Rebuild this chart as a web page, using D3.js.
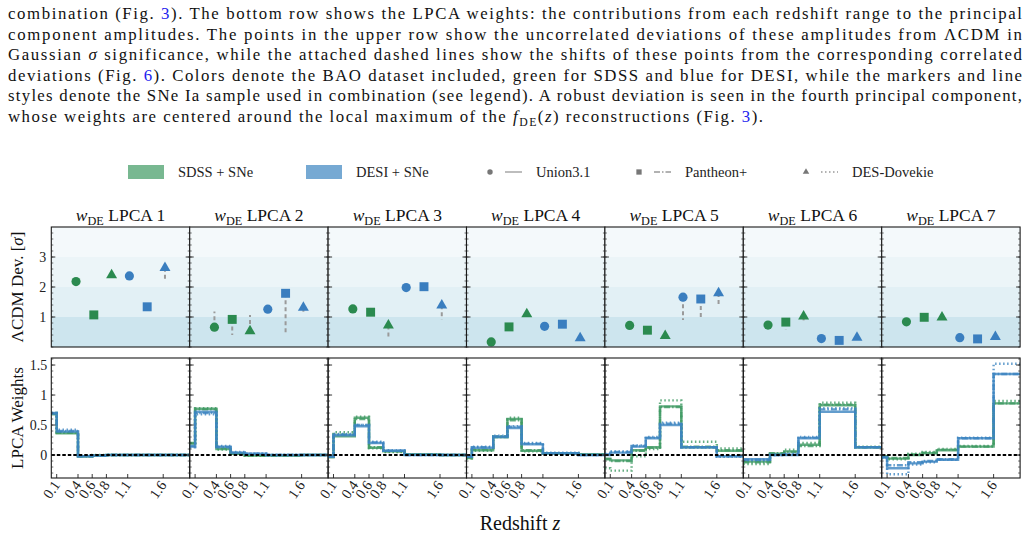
<!DOCTYPE html>
<html>
<head>
<meta charset="utf-8">
<script src="https://cdn.jsdelivr.net/npm/d3@7"></script>
<style>
body { margin: 0; background: #fff; }
svg { display: block; font-family: "Liberation Serif", "Times New Roman", serif; }
</style>
</head>
<body>
<svg width="1029" height="540"></svg>
<script>
// panel names, legend names and axis ticks
var panelNames = ["1", "2", "3", "4", "5", "6", "7"];
var baoNames = ["SDSS + SNe", "DESI + SNe"];
var sneNames = ["Union3.1", "Pantheon+", "DES-Dovekie"];
var zEdges = [0.1, 0.4, 0.6, 0.8, 1.1, 1.6];
var zTickLabels = ["0.1", "0.4", "0.6", "0.8", "1.1", "1.6"];
var devTicks = [1, 2, 3];
var devTickLabels = ["1", "2", "3"];
var weightTicks = [0, 0.5, 1, 1.5];
var weightTickLabels = ["0", "0.5", "1", "1.5"];

// uncorrelated deviations [Union3.1, Pantheon+, DES-Dovekie] per panel
var sdssDev = [[2.18, 1.07, 2.40], [0.66, 0.92, 0.53], [1.27, 1.16, 0.72], [0.17, 0.67, 1.10],
               [0.72, 0.56, 0.37], [0.73, 0.83, 1.02], [0.84, 0.99, 0.99]];
var desiDev = [[2.37, 1.34, 2.64], [1.26, 1.79, 1.31], [1.98, 2.01, 1.39], [0.69, 0.76, 0.30],
               [1.66, 1.60, 1.80], [0.28, 0.22, 0.31], [0.31, 0.27, 0.34]];
// correlated deviations (end of the dashed shift lines)
var sdssCorr = [[2.15, 1.05, 2.30], [1.18, 0.40, 1.07], [1.25, 1.12, 0.29], [0.15, 0.77, 1.08],
                [0.60, 0.54, 0.35], [0.51, 0.59, 0.84], [0.70, 0.97, 0.97]];
var desiCorr = [[2.35, 1.20, 2.27], [1.24, 0.49, 1.17], [1.96, 1.79, 0.92], [0.67, 0.74, 0.46],
                [0.90, 0.99, 1.42], [0.27, 0.21, 0.30], [0.30, 0.40, 0.33]];

// LPCA weights per redshift bin, one row per panel
var sdssUnionW = [[0.68, 0.36, -0.02, -0.01, 0, 0, 0], [0.19, 0.77, 0.10, 0.02, -0.01, -0.01, 0],
                  [-0.04, 0.31, 0.62, 0.12, 0.06, 0.01, 0], [-0.05, 0.08, 0.30, 0.60, 0.07, 0.03, 0.01],
                  [-0.06, -0.09, 0.08, 0.13, 0.81, 0.13, 0.07], [-0.11, -0.11, 0.02, 0.06, 0.17, 0.83, 0.13],
                  [-0.03, -0.06, 0.00, 0.03, 0.08, 0.14, 0.86]];
var sdssPanW = [[0.69, 0.37, -0.02, -0.01, 0, 0, 0], [0.20, 0.76, 0.11, 0.02, -0.01, -0.01, 0],
                [-0.03, 0.34, 0.60, 0.13, 0.06, 0.01, 0], [-0.04, 0.09, 0.30, 0.58, 0.08, 0.03, 0.01],
                [-0.07, -0.10, 0.07, 0.12, 0.80, 0.14, 0.08], [-0.12, -0.12, 0.03, 0.05, 0.15, 0.84, 0.13],
                [-0.02, -0.05, 0.01, 0.04, 0.09, 0.14, 0.86]];
var sdssDesW = [[0.70, 0.38, -0.02, 0, 0, 0, 0], [0.20, 0.78, 0.09, 0.02, -0.01, 0, 0],
                [-0.03, 0.38, 0.64, 0.11, 0.05, 0.01, 0], [-0.06, 0.07, 0.31, 0.62, 0.06, 0.03, 0.01],
                [-0.22, -0.26, -0.02, 0.10, 0.91, 0.22, 0.11], [-0.15, -0.15, 0.01, 0.09, 0.20, 0.87, 0.14],
                [-0.05, -0.07, 0.02, 0.05, 0.10, 0.15, 0.90]];
var desiUnionW = [[0.70, 0.39, -0.02, -0.01, 0, 0, 0], [0.14, 0.72, 0.14, 0.04, 0.02, 0, 0],
                  [-0.03, 0.33, 0.48, 0.20, 0.07, 0.00, 0], [-0.03, 0.12, 0.30, 0.45, 0.18, 0.03, 0],
                  [0.00, 0.04, 0.14, 0.28, 0.50, 0.13, -0.02], [-0.07, -0.07, 0.00, 0.00, 0.28, 0.72, 0.13],
                  [-0.04, -0.22, -0.14, -0.11, -0.08, 0.28, 1.35]];
var desiPanW = [[0.69, 0.40, -0.02, -0.01, 0, 0, 0], [0.15, 0.70, 0.13, 0.04, 0.02, 0, 0],
                [-0.02, 0.34, 0.50, 0.21, 0.07, 0.00, 0], [-0.02, 0.13, 0.31, 0.47, 0.19, 0.03, 0],
                [0.01, 0.05, 0.15, 0.29, 0.52, 0.13, -0.02], [-0.08, -0.08, 0.00, 0.01, 0.29, 0.76, 0.13],
                [-0.04, -0.17, -0.12, -0.10, -0.07, 0.28, 1.35]];
var desiDesW = [[0.70, 0.42, -0.01, -0.01, 0, 0, 0], [0.13, 0.68, 0.15, 0.05, 0.02, 0, 0],
                [-0.02, 0.35, 0.50, 0.22, 0.08, 0.01, 0], [-0.02, 0.14, 0.32, 0.48, 0.20, 0.04, 0],
                [0.02, 0.06, 0.16, 0.30, 0.54, 0.13, -0.03], [-0.09, -0.09, 0.00, 0.02, 0.30, 0.78, 0.13],
                [-0.05, -0.32, -0.16, -0.12, -0.08, 0.29, 1.52]];

var greenMark = "#2b8a4f", blueMark = "#3a7ebf";
var greenLine = "#3f9a63", blueLine = "#3c84c0";
var dashes = [null, "6,2,1.5,2", "1.5,2.5"];
var symbols = [d3.symbolCircle, d3.symbolSquare, d3.symbolTriangle];
var symbolSizes = [66, 80, 52];

var svg = d3.select("svg");

// ---------- caption text above the figure ----------
var textLines = [
    [["combination (Fig. ", ""], ["3", "link"], ["). The bottom row shows the LPCA weights: the contributions from each redshift range to the principal", ""]],
    [["component amplitudes. The points in the upper row show the uncorrelated deviations of these amplitudes from \u039BCDM in", ""]],
    [["Gaussian ", ""], ["\u03C3", "it"], [" significance, while the attached dashed lines show the shifts of these points from the corresponding correlated", ""]],
    [["deviations (Fig. ", ""], ["6", "link"], ["). Colors denote the BAO dataset included, green for SDSS and blue for DESI, while the markers and line", ""]],
    [["styles denote the SNe Ia sample used in combination (see legend). A robust deviation is seen in the fourth principal component,", ""]],
    [["whose weights are centered around the local maximum of the ", ""], ["f", "it"], ["DE", "sub"], ["(", "unsub"], ["z", "it"], [") reconstructions (Fig. ", ""], ["3", "link"], [").", ""]]
];
var lineWidths = [1014, 1014, 1014, 1014, 1014, 755];

var para = svg.append("g").attr("class", "caption");
textLines.forEach(function(parts, i) {
    var t = para.append("text")
        .attr("x", 8)
        .attr("y", 19 + i * 20.6)
        .attr("font-size", 16.8)
        .attr("fill", "#111");
    parts.forEach(function(p) {
        var s = t.append("tspan").text(p[0]);
        if (p[1] == "link") s.attr("fill", "#2222ee");
        if (p[1] == "it") s.attr("font-style", "italic");
        if (p[1] == "sub") s.attr("font-size", "0.7em").attr("dy", 4);
        if (p[1] == "unsub") s.attr("dy", -4);
    });
    // spread the letters so the line fills its width, like the justified page text
    var full = parts.map(function(p) { return p[0]; }).join("");
    var w = t.node().getComputedTextLength();
    t.attr("letter-spacing", (lineWidths[i] - w) / (full.length - 1));
});

// ---------- legend ----------
var legend = svg.append("g").attr("class", "legend").attr("font-size", 14.5).attr("fill", "#222");
var patchX = [128, 306];
[greenLine, blueLine].forEach(function(c, i) {
    legend.append("rect").attr("x", patchX[i]).attr("y", 165).attr("width", 36).attr("height", 14)
        .attr("fill", c).attr("opacity", 0.7);
    legend.append("text").attr("x", patchX[i] + 50).attr("y", 177).text(baoNames[i]);
});
var sneX = [490, 639, 806];
sneNames.forEach(function(name, i) {
    legend.append("path")
        .attr("d", d3.symbol().type(symbols[i]).size(symbolSizes[i] * 0.35))
        .attr("transform", "translate(" + sneX[i] + ",172)")
        .attr("fill", "#777");
    legend.append("line").attr("x1", sneX[i] + 15).attr("x2", sneX[i] + 32)
        .attr("y1", 172).attr("y2", 172)
        .attr("stroke", "#999").attr("stroke-width", 1.3)
        .attr("stroke-dasharray", dashes[i]);
    legend.append("text").attr("x", sneX[i] + 46).attr("y", 177).text(name);
});

// ---------- scales ----------
var panelLeft = 51.3, panelW = 138.4;
var xDev = d3.scalePoint().domain(d3.range(6)).range([0, panelW]).padding(1.39);
var yDev = d3.scaleLinear().domain([0, 4]).range([347, 227]);
var xZ = d3.scaleLinear().domain([0.024, 1.973]).range([0, panelW]);
var yW = d3.scaleLinear().domain([-0.383, 1.617]).range([478, 358]);

var bandColors = ["#cde5ee", "#e2f0f5", "#ecf5f8", "#f4f9fb"];

var stepLine = d3.line()
    .x(function(d) { return xZ(d[0]); })
    .y(function(d) { return yW(d[1]); })
    .curve(d3.curveStepAfter);

function stepPoints(vals) {
    var edges = [xZ.domain()[0]].concat(zEdges);
    var pts = edges.map(function(z, k) { return [z, vals[k]]; });
    pts.push([xZ.domain()[1], vals[vals.length - 1]]);
    return pts;
}

function yTicks(g, scale, majors, step) {
    var lo = scale.domain()[0], hi = scale.domain()[1];
    var minors = d3.range(Math.ceil(lo / step) * step, hi, step);
    [0, panelW].forEach(function(x0) {
        var dir = x0 == 0 ? 1 : -1;
        g.selectAll(null).data(minors).enter().append("line")
            .attr("x1", x0).attr("x2", x0 + dir * 2)
            .attr("y1", function(d) { return scale(d); }).attr("y2", function(d) { return scale(d); })
            .attr("stroke", "#333").attr("stroke-width", 0.7);
        g.selectAll(null).data(majors).enter().append("line")
            .attr("x1", x0).attr("x2", x0 + dir * 4)
            .attr("y1", function(d) { return scale(d); }).attr("y2", function(d) { return scale(d); })
            .attr("stroke", "#222").attr("stroke-width", 0.9);
    });
}

var weightSeries = [
    { data: sdssDesW, color: greenLine, dash: dashes[2] },
    { data: sdssPanW, color: greenLine, dash: dashes[1] },
    { data: sdssUnionW, color: greenLine, dash: dashes[0] },
    { data: desiDesW, color: blueLine, dash: dashes[2] },
    { data: desiPanW, color: blueLine, dash: dashes[1] },
    { data: desiUnionW, color: blueLine, dash: dashes[0] }
];

panelNames.forEach(function(name, p) {
    var g = svg.append("g").attr("transform", "translate(" + (panelLeft + p * panelW) + ",0)");

    // title
    var title = g.append("text").attr("x", panelW / 2).attr("y", 221)
        .attr("text-anchor", "middle").attr("font-size", 17.5).attr("fill", "#111");
    title.append("tspan").attr("font-style", "italic").text("w");
    title.append("tspan").attr("font-size", "0.7em").attr("dy", 4).text("DE");
    title.append("tspan").attr("dy", -4).text(" LPCA " + name);

    // ----- upper row: deviations -----
    var top = g.append("g");
    top.selectAll("rect.band").data([0, 1, 2, 3]).enter().append("rect")
        .attr("class", "band")
        .attr("x", 0).attr("width", panelW)
        .attr("y", function(d) { return yDev(d + 1); })
        .attr("height", function(d) { return yDev(d) - yDev(d + 1); })
        .attr("fill", function(d) { return bandColors[d]; });

    var pts = [];
    for (var k = 0; k < 3; k++) {
        pts.push({ i: k, dev: sdssDev[p][k], corr: sdssCorr[p][k], color: greenMark, sym: k });
    }
    for (var k2 = 0; k2 < 3; k2++) {
        pts.push({ i: 3 + k2, dev: desiDev[p][k2], corr: desiCorr[p][k2], color: blueMark, sym: k2 });
    }
    top.selectAll("line.shift").data(pts).enter().append("line")
        .attr("class", "shift")
        .attr("x1", function(d) { return xDev(d.i); }).attr("x2", function(d) { return xDev(d.i); })
        .attr("y1", function(d) { return yDev(d.dev); }).attr("y2", function(d) { return yDev(d.corr); })
        .attr("stroke", "#9a9a9a").attr("stroke-width", 2).attr("stroke-dasharray", "4,3");
    top.selectAll("path.mark").data(pts).enter().append("path")
        .attr("class", "mark")
        .attr("d", function(d) { return d3.symbol().type(symbols[d.sym]).size(symbolSizes[d.sym])(); })
        .attr("transform", function(d) { return "translate(" + xDev(d.i) + "," + yDev(d.dev) + ")"; })
        .attr("fill", function(d) { return d.color; });

    yTicks(top, yDev, devTicks, 0.2);
    top.append("rect").attr("x", 0).attr("y", yDev(4)).attr("width", panelW)
        .attr("height", yDev(0) - yDev(4))
        .attr("fill", "none").attr("stroke", "#1a1a1a").attr("stroke-width", 1.1);

    // ----- lower row: weights -----
    var bot = g.append("g");
    weightSeries.forEach(function(s) {
        bot.append("path")
            .attr("d", stepLine(stepPoints(s.data[p])))
            .attr("fill", "none")
            .attr("stroke", s.color)
            .attr("stroke-width", 2.4)
            .attr("stroke-opacity", 0.8)
            .attr("stroke-dasharray", s.dash);
    });
    bot.append("line")
        .attr("x1", 0).attr("x2", panelW)
        .attr("y1", yW(0)).attr("y2", yW(0))
        .attr("stroke", "#000").attr("stroke-width", 1.8).attr("stroke-dasharray", "3.5,2");

    yTicks(bot, yW, weightTicks, 0.1);
    bot.selectAll("line.xtick").data(zEdges).enter().append("line")
        .attr("class", "xtick")
        .attr("x1", function(d) { return xZ(d); }).attr("x2", function(d) { return xZ(d); })
        .attr("y1", yW.range()[0]).attr("y2", yW.range()[0] - 4)
        .attr("stroke", "#222").attr("stroke-width", 0.9);
    bot.selectAll("text.xlab").data(zEdges).enter().append("text")
        .attr("class", "xlab")
        .attr("text-anchor", "end")
        .attr("font-size", 14.5)
        .attr("fill", "#222")
        .attr("transform", function(d) { return "translate(" + (xZ(d) + 4) + ",485) rotate(-55)"; })
        .text(function(d, i) { return zTickLabels[i]; });
    bot.append("rect").attr("x", 0).attr("y", yW.range()[1]).attr("width", panelW)
        .attr("height", yW.range()[0] - yW.range()[1])
        .attr("fill", "none").attr("stroke", "#1a1a1a").attr("stroke-width", 1.1);

    if (p == 0) {
        g.selectAll("text.ydev").data(devTicks).enter().append("text")
            .attr("x", -5).attr("y", function(d) { return yDev(d); }).attr("dy", "0.35em")
            .attr("text-anchor", "end").attr("font-size", 14).attr("fill", "#222")
            .text(function(d, i) { return devTickLabels[i]; });
        g.selectAll("text.yw").data(weightTicks).enter().append("text")
            .attr("x", -4).attr("y", function(d) { return yW(d); }).attr("dy", "0.35em")
            .attr("text-anchor", "end").attr("font-size", 14).attr("fill", "#222")
            .text(function(d, i) { return weightTickLabels[i]; });
    }
});

// axis titles
var devLabel = svg.append("text")
    .attr("transform", "translate(23,287) rotate(-90)")
    .attr("text-anchor", "middle").attr("font-size", 17).attr("fill", "#111");
devLabel.append("tspan").text("\u039BCDM Dev. [");
devLabel.append("tspan").attr("font-style", "italic").text("\u03C3");
devLabel.append("tspan").text("]");

svg.append("text")
    .attr("transform", "translate(23,418) rotate(-90)")
    .attr("text-anchor", "middle").attr("font-size", 17).attr("fill", "#111")
    .text("LPCA Weights");

var zLabel = svg.append("text")
    .attr("x", 520).attr("y", 530)
    .attr("text-anchor", "middle").attr("font-size", 20).attr("fill", "#111");
zLabel.append("tspan").text("Redshift ");
zLabel.append("tspan").attr("font-style", "italic").text("z");
</script>
</body>
</html>
